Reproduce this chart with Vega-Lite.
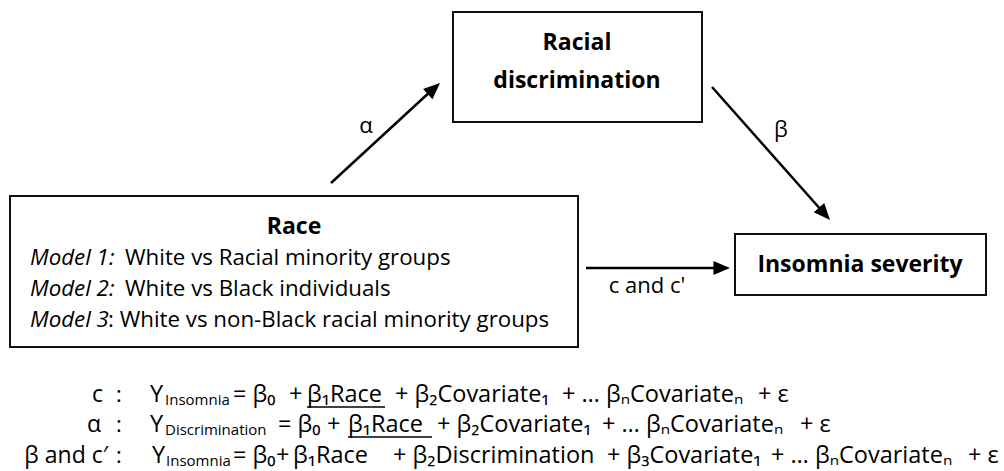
{
  "$schema": "https://vega.github.io/schema/vega-lite/v6.json",
  "width": 1004,
  "height": 471,
  "padding": 0,
  "autosize": {"type": "fit", "contains": "padding"},
  "background": "white",
  "config": {"view": {"stroke": null}, "text": {"font": "Open Sans", "color": "#000"}},
  "datasets": {
    "boxes": [
      {"name": "Racial discrimination", "x": 453, "y": 12, "x2": 702, "y2": 122},
      {"name": "Race", "x": 10, "y": 196, "x2": 578, "y2": 347},
      {"name": "Insomnia severity", "x": 735, "y": 234, "x2": 986, "y2": 295}
    ],
    "arrows": [
      {"path": "a", "x": 331, "y": 183, "x2": 432, "y2": 90},
      {"path": "b", "x": 712, "y": 87, "x2": 822, "y2": 211},
      {"path": "c", "x": 586, "y": 268, "x2": 716, "y2": 268}
    ],
    "heads": [
      {"path": "a", "x": 440, "y": 83, "angle": 47.5},
      {"path": "b", "x": 830, "y": 220, "angle": 138.5},
      {"path": "c", "x": 730, "y": 268, "angle": 90}
    ],
    "bold": [
      {"t": "Racial", "x": 577, "y": 50},
      {"t": "discrimination", "x": 577, "y": 88},
      {"t": "Race", "x": 294, "y": 234},
      {"t": "Insomnia severity", "x": 860, "y": 272}
    ],
    "italic": [
      {"t": "Model 1:", "x": 30, "y": 265},
      {"t": "Model 2:", "x": 30, "y": 296},
      {"t": "Model 3", "x": 30, "y": 327}
    ],
    "boxtext": [
      {"t": "White vs Racial minority groups", "x": 125, "y": 265},
      {"t": "White vs Black individuals", "x": 125, "y": 296},
      {"t": ": White vs non-Black racial minority groups", "x": 108, "y": 327}
    ],
    "left": [
      {"t": "Y", "x": 150, "y": 402},
      {"t": "= β₀", "x": 233, "y": 402},
      {"t": "+", "x": 289, "y": 402},
      {"t": "β₁Race", "x": 307, "y": 402},
      {"t": "+ β₂Covariate₁", "x": 395, "y": 402},
      {"t": "+ … βₙCovariateₙ", "x": 562, "y": 402},
      {"t": "+ ε", "x": 758, "y": 402},
      {"t": "Y", "x": 150, "y": 432},
      {"t": "= β₀", "x": 278, "y": 432},
      {"t": "+", "x": 327, "y": 432},
      {"t": "β₁Race", "x": 348, "y": 432},
      {"t": "+ β₂Covariate₁", "x": 437, "y": 432},
      {"t": "+ … βₙCovariateₙ", "x": 602, "y": 432},
      {"t": "+ ε", "x": 800, "y": 432},
      {"t": "Y", "x": 152, "y": 463},
      {"t": "= β₀", "x": 233, "y": 463},
      {"t": "+", "x": 276, "y": 463},
      {"t": "β₁Race", "x": 293, "y": 463},
      {"t": "+ β₂Discrimination", "x": 393, "y": 463},
      {"t": "+ β₃Covariate₁", "x": 607, "y": 463},
      {"t": "+ … βₙCovariateₙ", "x": 771, "y": 463},
      {"t": "+ ε", "x": 968, "y": 463}
    ],
    "center": [
      {"t": "α", "x": 366, "y": 133},
      {"t": "β", "x": 781, "y": 137},
      {"t": "c and c'", "x": 647, "y": 293},
      {"t": ":", "x": 119, "y": 402},
      {"t": ":", "x": 119, "y": 432},
      {"t": ":", "x": 119, "y": 463}
    ],
    "right": [
      {"t": "c", "x": 103, "y": 402},
      {"t": "α", "x": 101, "y": 432},
      {"t": "β and c′", "x": 108, "y": 463}
    ],
    "sub": [
      {"t": "Insomnia", "x": 165, "y": 405},
      {"t": "Discrimination", "x": 165, "y": 435},
      {"t": "Insomnia", "x": 166, "y": 466}
    ],
    "underlines": [
      {"eq": "c", "x": 307, "y": 407, "x2": 385},
      {"eq": "alpha", "x": 348, "y": 437, "x2": 432}
    ]
  },
  "encoding": {
    "x": {"field": "x", "type": "quantitative", "scale": {"domain": [0, 1004], "range": [0, 1004], "nice": false, "zero": false}, "axis": null},
    "y": {"field": "y", "type": "quantitative", "scale": {"domain": [0, 471], "range": [0, 471], "nice": false, "zero": false}, "axis": null}
  },
  "layer": [
    {
      "data": {"name": "boxes"},
      "mark": {"type": "rect", "fill": "white", "stroke": "#111", "strokeWidth": 2},
      "encoding": {"x2": {"field": "x2"}, "y2": {"field": "y2"}}
    },
    {
      "data": {"name": "arrows"},
      "mark": {"type": "rule", "stroke": "#000", "strokeWidth": 2.5},
      "encoding": {"x2": {"field": "x2"}, "y2": {"field": "y2"}}
    },
    {
      "data": {"name": "heads"},
      "mark": {"type": "point", "shape": "M0,0L-0.42,1L0.42,1Z", "filled": true, "fill": "#000", "opacity": 1, "size": 1100, "strokeWidth": 0},
      "encoding": {"angle": {"field": "angle", "type": "quantitative", "scale": null}}
    },
    {
      "data": {"name": "underlines"},
      "mark": {"type": "rule", "stroke": "#000", "strokeWidth": 1.3},
      "encoding": {"x2": {"field": "x2"}}
    },
    {
      "data": {"name": "bold"},
      "mark": {"type": "text", "fontWeight": "bold", "fontSize": 23, "align": "center", "baseline": "alphabetic"},
      "encoding": {"text": {"field": "t"}}
    },
    {
      "data": {"name": "italic"},
      "mark": {"type": "text", "fontStyle": "italic", "fontSize": 22.3, "align": "left", "baseline": "alphabetic"},
      "encoding": {"text": {"field": "t"}}
    },
    {
      "data": {"name": "boxtext"},
      "mark": {"type": "text", "fontSize": 22.3, "align": "left", "baseline": "alphabetic"},
      "encoding": {"text": {"field": "t"}}
    },
    {
      "data": {"name": "left"},
      "mark": {"type": "text", "fontSize": 23.5, "align": "left", "baseline": "alphabetic"},
      "encoding": {"text": {"field": "t"}}
    },
    {
      "data": {"name": "center"},
      "mark": {"type": "text", "fontSize": 22, "align": "center", "baseline": "alphabetic"},
      "encoding": {"text": {"field": "t"}}
    },
    {
      "data": {"name": "right"},
      "mark": {"type": "text", "fontSize": 23, "align": "right", "baseline": "alphabetic"},
      "encoding": {"text": {"field": "t"}}
    },
    {
      "data": {"name": "sub"},
      "mark": {"type": "text", "fontSize": 15, "align": "left", "baseline": "alphabetic"},
      "encoding": {"text": {"field": "t"}}
    }
  ]
}
